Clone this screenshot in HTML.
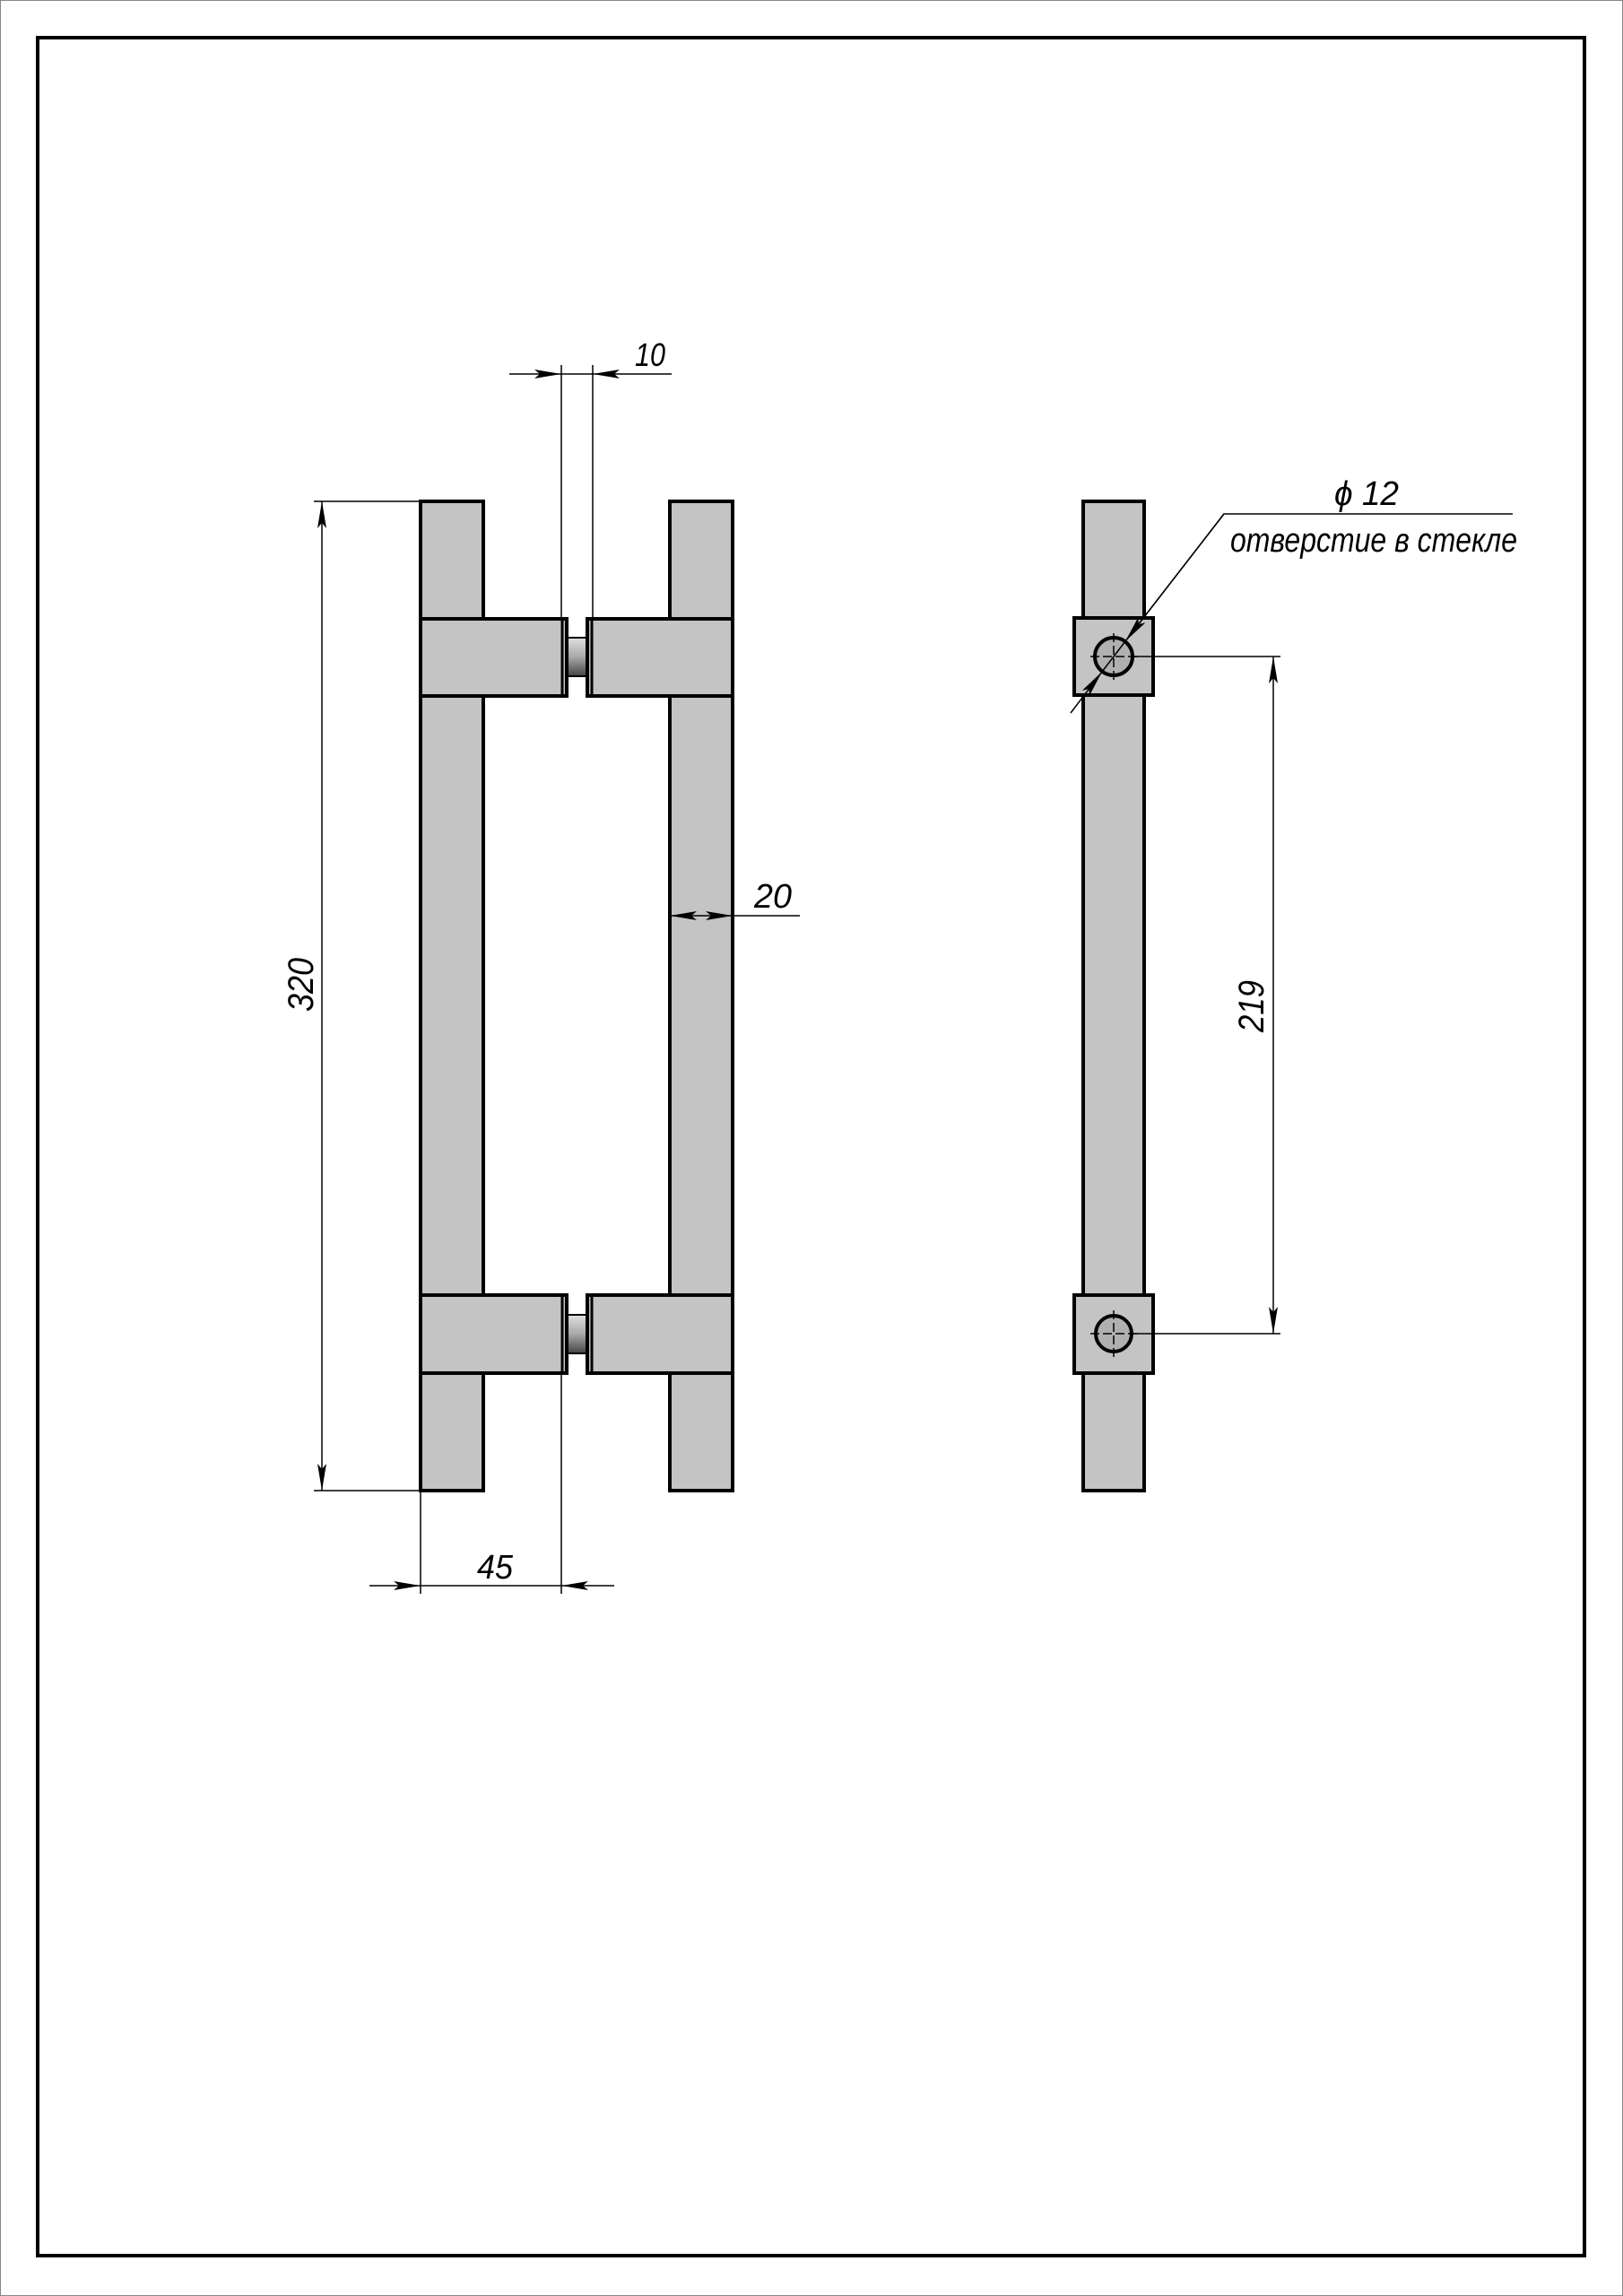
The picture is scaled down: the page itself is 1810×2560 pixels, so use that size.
<!DOCTYPE html>
<html><head><meta charset="utf-8"><style>
html,body{margin:0;padding:0;background:#fff}
svg{display:block}
text{font-family:"Liberation Sans",sans-serif;font-style:italic;fill:#000}
</style></head><body>
<svg width="1810" height="2560" viewBox="0 0 1810 2560" xmlns="http://www.w3.org/2000/svg">
<defs>
<linearGradient id="cyl" x1="0" y1="0" x2="0" y2="1">
<stop offset="0" stop-color="#e0e0e0"/><stop offset="0.5" stop-color="#a8a8a8"/><stop offset="1" stop-color="#444"/>
</linearGradient>
<marker id="a" viewBox="0 0 30 10" refX="30" refY="5" markerWidth="30" markerHeight="10" markerUnits="userSpaceOnUse" orient="auto">
<path d="M0,0 L30,5 L0,10 L6,5 Z" fill="#000"/>
</marker>
</defs>
<rect x="0.5" y="0.5" width="1809" height="2559" fill="none" stroke="#888" stroke-width="1"/>
<rect x="42" y="42" width="1725" height="2473" fill="none" stroke="#000" stroke-width="4"/>

<g fill="#c4c4c4" stroke="#000" stroke-width="4" stroke-linejoin="miter">
<!-- front view bars -->
<rect x="469" y="559" width="70" height="1103"/>
<rect x="747" y="559" width="70" height="1103"/>
<!-- top blocks -->
<rect x="469" y="690" width="163" height="86"/>
<rect x="655" y="690" width="162" height="86"/>
<rect x="469" y="1444" width="163" height="87"/>
<rect x="655" y="1444" width="162" height="87"/>
<!-- side view -->
<rect x="1208" y="559" width="68" height="1103"/>
<rect x="1198" y="689" width="88" height="86"/>
<rect x="1198" y="1444" width="88" height="87"/>
</g>
<g stroke="#000" stroke-width="3">
<line x1="627" y1="690" x2="627" y2="776"/><line x1="660" y1="690" x2="660" y2="776"/>
<line x1="627" y1="1444" x2="627" y2="1531"/><line x1="660" y1="1444" x2="660" y2="1531"/>
</g>
<rect x="633" y="711" width="21" height="43" fill="url(#cyl)" stroke="#000" stroke-width="2"/>
<rect x="633" y="1466" width="21" height="43" fill="url(#cyl)" stroke="#000" stroke-width="2"/>

<!-- circles -->
<g stroke="#000">
<circle cx="1242" cy="732" r="21" fill="#b0b0b0" stroke-width="4"/>
<circle cx="1242" cy="1487" r="20" fill="#b0b0b0" stroke-width="4"/>
<g stroke-width="1.5" stroke-dasharray="10,4">
<line x1="1216" y1="732" x2="1268" y2="732"/><line x1="1242" y1="706" x2="1242" y2="758"/>
<line x1="1216" y1="1487" x2="1268" y2="1487"/><line x1="1242" y1="1461" x2="1242" y2="1513"/>
</g>
</g>

<!-- dimension lines -->
<g stroke="#000" stroke-width="1.5" fill="none">
<!-- 10 -->
<line x1="626" y1="407" x2="626" y2="690"/><line x1="661" y1="407" x2="661" y2="690"/>
<line x1="568" y1="417" x2="626" y2="417" marker-end="url(#a)"/>
<line x1="749" y1="417" x2="661" y2="417" marker-end="url(#a)"/>
<line x1="626" y1="417" x2="661" y2="417"/>
<!-- 320 -->
<line x1="350" y1="559" x2="469" y2="559"/><line x1="350" y1="1662" x2="469" y2="1662"/>
<line x1="359" y1="1110" x2="359" y2="559" marker-end="url(#a)"/>
<line x1="359" y1="1110" x2="359" y2="1662" marker-end="url(#a)"/>
<!-- 45 -->
<line x1="469" y1="1662" x2="469" y2="1777"/><line x1="626" y1="1531" x2="626" y2="1777"/>
<line x1="412" y1="1768" x2="469" y2="1768" marker-end="url(#a)"/>
<line x1="685" y1="1768" x2="626" y2="1768" marker-end="url(#a)"/>
<line x1="469" y1="1768" x2="626" y2="1768"/>
<!-- 20 -->
<line x1="782" y1="1021" x2="747" y2="1021" marker-end="url(#a)"/>
<line x1="782" y1="1021" x2="817" y2="1021" marker-end="url(#a)"/>
<line x1="817" y1="1021" x2="892" y2="1021"/>
<!-- 219 -->
<line x1="1264" y1="732" x2="1428" y2="732"/><line x1="1263" y1="1487" x2="1428" y2="1487"/>
<line x1="1420" y1="1110" x2="1420" y2="732" marker-end="url(#a)"/>
<line x1="1420" y1="1110" x2="1420" y2="1487" marker-end="url(#a)"/>
<!-- leader diameter -->
<polyline points="1687,573 1365,573 1255,715"/>
<line x1="1365" y1="573" x2="1255" y2="715" marker-end="url(#a)"/>
<line x1="1194" y1="795" x2="1229" y2="749" marker-end="url(#a)"/>
<line x1="1255" y1="715" x2="1229" y2="749"/>
</g>

<!-- texts -->
<text x="708" y="408" font-size="36" textLength="34" lengthAdjust="spacingAndGlyphs">10</text>
<text x="841" y="1012" font-size="38" textLength="42" lengthAdjust="spacingAndGlyphs">20</text>
<text x="532" y="1760" font-size="38" textLength="40" lengthAdjust="spacingAndGlyphs">45</text>
<text transform="translate(349,1098) rotate(-90)" text-anchor="middle" font-size="40" textLength="60" lengthAdjust="spacingAndGlyphs">320</text>
<text transform="translate(1409,1122) rotate(-90)" text-anchor="middle" font-size="40" textLength="58" lengthAdjust="spacingAndGlyphs">219</text>
<text x="1488" y="563" font-size="38" textLength="72" lengthAdjust="spacingAndGlyphs">ϕ 12</text>
<text x="1372" y="615" font-size="38" textLength="320" lengthAdjust="spacingAndGlyphs">отверстие в стекле</text>
</svg>
</body></html>
